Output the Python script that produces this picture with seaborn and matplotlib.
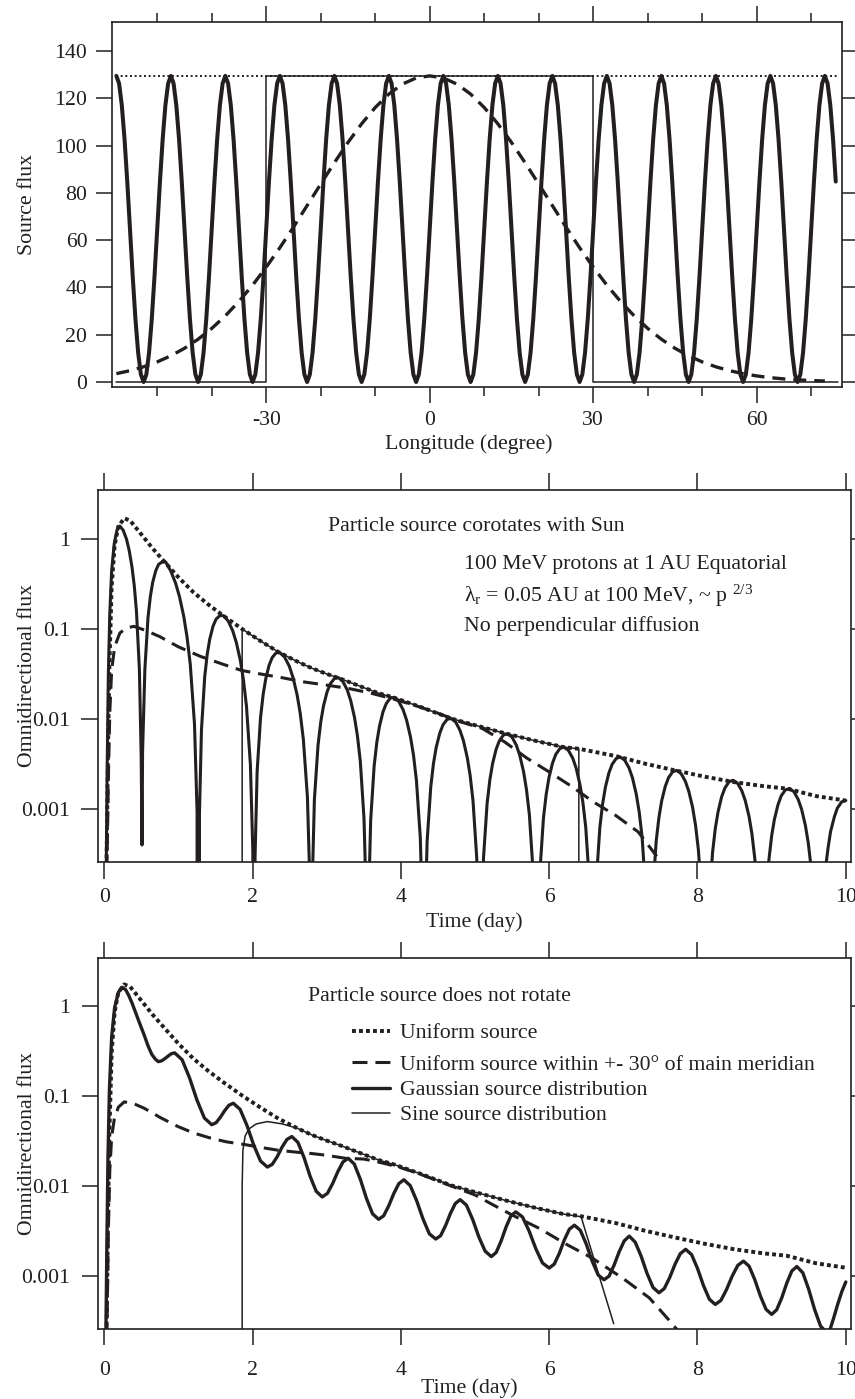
import matplotlib
matplotlib.use("Agg")
import matplotlib.pyplot as plt
import numpy as np
import seaborn as sns
from matplotlib.ticker import FixedLocator, NullLocator

INK = "#231f20"
FONT_SIZE = 15.7

# ---------- top panel: source flux against longitude ----------
UNIFORM_LON = [-57.5, 74.9]
UNIFORM_SRC = [129.5, 129.5]

STEP_LON = [-57.5, -30.0, -30.0, 30.0, 30.0, 74.9]
STEP_SRC = [0.0, 0.0, 129.5, 129.5, 0.0, 0.0]

GAUSS_LON = np.arange(-57.5, 73.0, 2.5)
GAUSS_SRC = [3.54, 4.80, 6.43, 8.50, 11.09, 14.26, 18.10, 22.66, 28.00, 34.11, 40.98, 48.60,
             56.81, 65.55, 74.64, 83.75, 92.76, 101.35, 109.23, 116.13, 121.81, 126.02, 128.62,
             129.5,
             128.62, 126.02, 121.81, 116.13, 109.23, 101.35, 92.76, 83.75, 74.64, 65.55, 56.81,
             48.60, 40.98, 34.11, 28.00, 22.66, 18.10, 14.26, 11.09, 8.50, 6.43, 4.80, 3.54,
             2.57, 1.84, 1.30, 0.91, 0.62, 0.42]

SINE_LON = np.arange(-57.5, 75.0, 0.5)
SINE_SRC = [
    129.5, 126.3, 117.1, 102.8, 84.8, 64.8, 44.7, 26.7, 12.4, 3.2, 0.0, 3.2, 12.4, 26.7, 44.7, 64.8, 84.8, 102.8, 117.1, 126.3,
    129.5, 126.3, 117.1, 102.8, 84.8, 64.8, 44.7, 26.7, 12.4, 3.2, 0.0, 3.2, 12.4, 26.7, 44.7, 64.8, 84.8, 102.8, 117.1, 126.3,
    129.5, 126.3, 117.1, 102.8, 84.8, 64.8, 44.7, 26.7, 12.4, 3.2, 0.0, 3.2, 12.4, 26.7, 44.7, 64.8, 84.8, 102.8, 117.1, 126.3,
    129.5, 126.3, 117.1, 102.8, 84.8, 64.8, 44.7, 26.7, 12.4, 3.2, 0.0, 3.2, 12.4, 26.7, 44.7, 64.8, 84.8, 102.8, 117.1, 126.3,
    129.5, 126.3, 117.1, 102.8, 84.8, 64.8, 44.7, 26.7, 12.4, 3.2, 0.0, 3.2, 12.4, 26.7, 44.7, 64.8, 84.8, 102.8, 117.1, 126.3,
    129.5, 126.3, 117.1, 102.8, 84.8, 64.8, 44.7, 26.7, 12.4, 3.2, 0.0, 3.2, 12.4, 26.7, 44.7, 64.8, 84.8, 102.8, 117.1, 126.3,
    129.5, 126.3, 117.1, 102.8, 84.8, 64.8, 44.7, 26.7, 12.4, 3.2, 0.0, 3.2, 12.4, 26.7, 44.7, 64.8, 84.8, 102.8, 117.1, 126.3,
    129.5, 126.3, 117.1, 102.8, 84.8, 64.8, 44.7, 26.7, 12.4, 3.2, 0.0, 3.2, 12.4, 26.7, 44.7, 64.8, 84.8, 102.8, 117.1, 126.3,
    129.5, 126.3, 117.1, 102.8, 84.8, 64.8, 44.7, 26.7, 12.4, 3.2, 0.0, 3.2, 12.4, 26.7, 44.7, 64.8, 84.8, 102.8, 117.1, 126.3,
    129.5, 126.3, 117.1, 102.8, 84.8, 64.8, 44.7, 26.7, 12.4, 3.2, 0.0, 3.2, 12.4, 26.7, 44.7, 64.8, 84.8, 102.8, 117.1, 126.3,
    129.5, 126.3, 117.1, 102.8, 84.8, 64.8, 44.7, 26.7, 12.4, 3.2, 0.0, 3.2, 12.4, 26.7, 44.7, 64.8, 84.8, 102.8, 117.1, 126.3,
    129.5, 126.3, 117.1, 102.8, 84.8, 64.8, 44.7, 26.7, 12.4, 3.2, 0.0, 3.2, 12.4, 26.7, 44.7, 64.8, 84.8, 102.8, 117.1, 126.3,
    129.5, 126.3, 117.1, 102.8, 84.8, 64.8, 44.7, 26.7, 12.4, 3.2, 0.0, 3.2, 12.4, 26.7, 44.7, 64.8, 84.8, 102.8, 117.1, 126.3,
    129.5, 126.3, 117.1, 102.8, 84.8,
]

# ---------- time profiles (days, omnidirectional flux) ----------
# uniform source: same curve in both lower panels
UNIFORM_T = [0.03, 0.05, 0.07, 0.10, 0.14, 0.19, 0.27, 0.35, 0.50, 0.65, 0.80, 1.00, 1.20, 1.40,
             1.60, 1.86, 2.10, 2.35, 2.60, 2.80, 3.00, 3.20, 3.50, 3.70, 3.90, 4.30, 4.68, 5.00,
             5.40, 5.80, 6.20, 6.40, 6.90, 7.30, 7.70, 8.10, 8.50, 8.90, 9.20, 9.60, 10.00]
UNIFORM_FLUX = [0.0002, 0.004, 0.04, 0.30, 0.85, 1.40, 1.72, 1.62, 1.14, 0.80, 0.58, 0.38, 0.26, 0.19,
                0.143, 0.101, 0.075, 0.056, 0.044, 0.037, 0.032, 0.028, 0.0225, 0.0195, 0.0175, 0.0134, 0.0102, 0.0086,
                0.0070, 0.0058, 0.0049, 0.0047, 0.0039, 0.0032, 0.0027, 0.0023, 0.0020, 0.0018, 0.0017, 0.0014, 0.00125]

# corotating source
COROT_STEP_T = [1.86, 1.86, 2.10, 2.35, 2.60, 2.80, 3.00, 3.20, 3.50, 3.70, 3.90, 4.30, 4.68, 5.00,
                5.40, 5.80, 6.20, 6.40, 6.40]
COROT_STEP_FLUX = [0.0, 0.101, 0.075, 0.056, 0.044, 0.037, 0.032, 0.028, 0.0225, 0.0195, 0.0175, 0.0134, 0.0102, 0.0086,
                   0.0070, 0.0058, 0.0049, 0.0047, 0.0]

COROT_WIDE_T = [0.035, 0.055, 0.075, 0.10, 0.14, 0.21, 0.30, 0.40, 0.55, 0.75, 1.0, 1.3, 1.6, 1.85,
                2.1, 2.4, 2.7, 3.0, 3.3, 3.6, 3.9, 4.2, 4.5, 4.8, 5.1, 5.4, 5.7, 6.0, 6.3, 6.6, 6.9, 7.2, 7.45]
COROT_WIDE_FLUX = [0.0002, 0.002, 0.012, 0.035, 0.064, 0.091, 0.104, 0.108, 0.098, 0.083, 0.064, 0.050, 0.041, 0.035,
                   0.032, 0.029, 0.026, 0.024, 0.022, 0.0195, 0.0168, 0.0142, 0.0117, 0.0094, 0.0079, 0.0056, 0.0037,
                   0.0026, 0.0018, 0.0012, 0.00085, 0.00056, 0.0003]

# one row per arch, cusps at zero flux
COROT_SINE_T = [
    0.025, 0.04, 0.055, 0.075, 0.10, 0.135, 0.17, 0.19, 0.21, 0.255, 0.30, 0.336, 0.375, 0.405, 0.435, 0.474, 0.498, 0.51,
    0.517, 0.548, 0.59, 0.622, 0.654, 0.696, 0.734, 0.782, 0.83, 0.896, 0.962, 1.015, 1.072, 1.116, 1.16, 1.217, 1.252, 1.27,
    1.284, 1.311, 1.355, 1.389, 1.423, 1.467, 1.508, 1.559, 1.61, 1.672, 1.733, 1.782, 1.836, 1.877, 1.918, 1.971, 2.004, 2.02,
    2.034, 2.062, 2.108, 2.143, 2.178, 2.223, 2.265, 2.318, 2.37, 2.433, 2.496, 2.546, 2.601, 2.643, 2.685, 2.74, 2.773, 2.79,
    2.805, 2.834, 2.883, 2.92, 2.957, 3.005, 3.049, 3.105, 3.16, 3.219, 3.277, 3.324, 3.375, 3.414, 3.453, 3.503, 3.534, 3.55,
    3.564, 3.593, 3.64, 3.676, 3.712, 3.759, 3.802, 3.856, 3.91, 3.97, 4.03, 4.078, 4.13, 4.17, 4.21, 4.262, 4.294, 4.31,
    4.325, 4.354, 4.403, 4.44, 4.477, 4.525, 4.569, 4.625, 4.68, 4.739, 4.797, 4.844, 4.895, 4.934, 4.973, 5.023, 5.054, 5.07,
    5.114, 5.163, 5.2, 5.237, 5.285, 5.329, 5.385, 5.44, 5.499, 5.557, 5.604, 5.655, 5.694, 5.733, 5.783, 5.83,
    5.874, 5.923, 5.96, 5.997, 6.045, 6.089, 6.145, 6.2, 6.259, 6.317, 6.364, 6.415, 6.454, 6.493, 6.543, 6.59,
    6.634, 6.683, 6.72, 6.757, 6.805, 6.849, 6.905, 6.96, 7.019, 7.077, 7.124, 7.175, 7.214, 7.253, 7.303, 7.35,
    7.394, 7.443, 7.48, 7.517, 7.565, 7.609, 7.665, 7.72, 7.779, 7.837, 7.884, 7.935, 7.974, 8.013, 8.063, 8.11,
    8.154, 8.203, 8.24, 8.277, 8.325, 8.369, 8.425, 8.48, 8.539, 8.597, 8.644, 8.695, 8.734, 8.773, 8.823, 8.87,
    8.914, 8.963, 9.0, 9.037, 9.085, 9.129, 9.185, 9.24, 9.299, 9.357, 9.404, 9.455, 9.494, 9.533, 9.583, 9.63,
    9.671, 9.72, 9.76, 9.794, 9.845, 9.886, 9.945, 10.0,
]
COROT_SINE_FLUX = [
    1.5e-4, 0.003, 0.03, 0.15, 0.45, 0.9, 1.25, 1.36, 1.41, 1.27, 1.01, 0.76, 0.49, 0.306, 0.158, 0.036, 0.0039, 0.0004,
    0.0043, 0.036, 0.135, 0.233, 0.335, 0.452, 0.53, 0.562, 0.56, 0.448, 0.327, 0.231, 0.14, 0.083, 0.041, 0.0089, 0.00094, 0.0,
    0.00088, 0.0076, 0.0298, 0.053, 0.078, 0.1086, 0.130, 0.1425, 0.142, 0.124, 0.0964, 0.0711, 0.0449, 0.0275, 0.0140, 0.00314, 0.000335, 0.0,
    0.0003, 0.00265, 0.0105, 0.0189, 0.0282, 0.0399, 0.0486, 0.055, 0.055, 0.0491, 0.0389, 0.0291, 0.0187, 0.01164, 0.006, 0.00137, 0.00015, 0.0,
    0.000145, 0.00128, 0.00515, 0.00938, 0.0141, 0.0202, 0.0249, 0.0285, 0.029, 0.0263, 0.0212, 0.0161, 0.0105, 0.00658, 0.00343, 0.00079, 0.000087, 0.0,
    0.000086, 0.000757, 0.00305, 0.00557, 0.00839, 0.0121, 0.0149, 0.0172, 0.0175, 0.0159, 0.0128, 0.00975, 0.00635, 0.00401, 0.00209, 0.000484, 0.000053, 0.0,
    0.00005, 0.000439, 0.00177, 0.00324, 0.00489, 0.00703, 0.00871, 0.01002, 0.0102, 0.00933, 0.00755, 0.00577, 0.00377, 0.00238, 0.00124, 0.000289, 0.000032, 0.0,
    0.000285, 0.00116, 0.00212, 0.00322, 0.00466, 0.00579, 0.00671, 0.0069, 0.00634, 0.00516, 0.00396, 0.00261, 0.00165, 0.000869, 0.000203, 0.0,
    0.000196, 0.000802, 0.00147, 0.00224, 0.00326, 0.00407, 0.00474, 0.0049, 0.00452, 0.00371, 0.00286, 0.00188, 0.0012, 0.000632, 0.000149, 0.0,
    0.000152, 0.000622, 0.00114, 0.00174, 0.00253, 0.00316, 0.00368, 0.0038, 0.00351, 0.00288, 0.00222, 0.00146, 0.00093, 0.000491, 0.000115, 0.0,
    0.000108, 0.000442, 0.00081, 0.00124, 0.00179, 0.00224, 0.00261, 0.0027, 0.00249, 0.00204, 0.00157, 0.00104, 0.00066, 0.000348, 0.000082, 0.0,
    0.00008, 0.00033, 0.00061, 0.000933, 0.00137, 0.00172, 0.00202, 0.0021, 0.00195, 0.00161, 0.00125, 0.000832, 0.000533, 0.000282, 0.000066, 0.0,
    0.000068, 0.000274, 0.000505, 0.00077, 0.00112, 0.00141, 0.00164, 0.0017, 0.00157, 0.00129, 0.000998, 0.00066, 0.000421, 0.000222, 0.000052, 0.0,
    0.00005, 0.0002, 0.000368, 0.000562, 0.00082, 0.00103, 0.00121, 0.00125,
]

# source fixed in space
STATIC_WIDE_T = [0.035, 0.055, 0.075, 0.10, 0.135, 0.19, 0.27, 0.40, 0.54, 0.75, 0.99, 1.2, 1.44, 1.65,
                 1.89, 2.1, 2.35, 2.6, 2.8, 3.0, 3.25, 3.5, 3.7, 3.95, 4.2, 4.4, 4.7, 5.0, 5.2, 5.5,
                 5.87, 6.22, 6.58, 6.99, 7.35, 7.6, 7.72]
STATIC_WIDE_FLUX = [0.0002, 0.003, 0.015, 0.035, 0.055, 0.075, 0.086, 0.082, 0.073, 0.058, 0.046, 0.039, 0.034, 0.031,
                    0.029, 0.027, 0.025, 0.0238, 0.023, 0.022, 0.0204, 0.020, 0.0185, 0.0165, 0.0142, 0.0123, 0.0099,
                    0.0080, 0.0065, 0.0048, 0.0034, 0.0023, 0.0016, 0.00096, 0.00058, 0.00034, 0.00026]

STATIC_GAUSS_T = [
    0.02, 0.035, 0.05, 0.07, 0.10, 0.14, 0.19, 0.24, 0.29, 0.33, 0.375, 0.42, 0.48, 0.54, 0.59, 0.64, 0.69, 0.73,
    0.774, 0.818, 0.862, 0.906, 0.95,
    1.05, 1.15, 1.25, 1.35, 1.45,
    1.508, 1.566, 1.624, 1.682, 1.74,
    1.832, 1.924, 2.016, 2.108, 2.20,
    2.266, 2.332, 2.398, 2.464, 2.53,
    2.612, 2.694, 2.776, 2.858, 2.94,
    3.01, 3.08, 3.15, 3.22, 3.29,
    3.372, 3.454, 3.536, 3.618, 3.70,
    3.768, 3.836, 3.904, 3.972, 4.04,
    4.126, 4.212, 4.298, 4.384, 4.47,
    4.536, 4.602, 4.668, 4.734, 4.80,
    4.884, 4.968, 5.052, 5.136, 5.22,
    5.286, 5.352, 5.418, 5.484, 5.55,
    5.64, 5.73, 5.82, 5.91, 6.00,
    6.068, 6.136, 6.204, 6.272, 6.34,
    6.42, 6.50, 6.58, 6.66, 6.74,
    6.808, 6.876, 6.944, 7.012, 7.08,
    7.16, 7.24, 7.32, 7.40, 7.48,
    7.552, 7.624, 7.696, 7.768, 7.84,
    7.92, 8.00, 8.08, 8.16, 8.24,
    8.316, 8.392, 8.468, 8.544, 8.62,
    8.696, 8.772, 8.848, 8.924, 9.00,
    9.068, 9.136, 9.204, 9.272, 9.34,
    9.42, 9.50, 9.58, 9.66, 9.74,
    9.79, 9.84, 9.89, 9.945, 10.0,
]
STATIC_GAUSS_FLUX = [
    0.00015, 0.002, 0.02, 0.12, 0.45, 0.95, 1.4, 1.6, 1.5, 1.3, 1.07, 0.85, 0.63, 0.47, 0.36, 0.29, 0.255, 0.24,
    0.245, 0.259, 0.277, 0.294, 0.30,
    0.252, 0.159, 0.0902, 0.057, 0.048,
    0.0505, 0.058, 0.0687, 0.0789, 0.083,
    0.0711, 0.0473, 0.0285, 0.019, 0.0163,
    0.0175, 0.0212, 0.0271, 0.033, 0.0355,
    0.0306, 0.0208, 0.0129, 0.0088, 0.0076,
    0.00834, 0.0107, 0.0145, 0.0186, 0.0204,
    0.0176, 0.0119, 0.00733, 0.00495, 0.0043,
    0.0047, 0.00605, 0.00828, 0.01067, 0.0118,
    0.01016, 0.00695, 0.00435, 0.00297, 0.0026,
    0.00283, 0.00365, 0.00499, 0.00643, 0.0071,
    0.00617, 0.00429, 0.00274, 0.00191, 0.00166,
    0.00185, 0.00247, 0.00352, 0.0047, 0.0052,
    0.00457, 0.00318, 0.00203, 0.00141, 0.00124,
    0.00137, 0.0018, 0.00254, 0.00334, 0.0037,
    0.00325, 0.00229, 0.00148, 0.00104, 0.00092,
    0.00101, 0.00134, 0.00188, 0.00248, 0.0028,
    0.0024, 0.00168, 0.00108, 0.000757, 0.00066,
    0.000734, 0.000968, 0.00136, 0.00179, 0.0020,
    0.00175, 0.00123, 0.000796, 0.00056, 0.00049,
    0.000544, 0.000718, 0.00101, 0.00133, 0.00148,
    0.0013, 0.000925, 0.000608, 0.000433, 0.00038,
    0.000428, 0.000579, 0.000845, 0.00115, 0.00129,
    0.0011, 0.000721, 0.000429, 0.000282, 0.00024,
    0.000263, 0.000355, 0.00049, 0.000676, 0.00087,
]

STATIC_SINE_T = [1.855, 1.86, 1.87, 1.90, 1.95, 2.05, 2.20, 2.40, 2.60, 2.80, 3.00, 3.20, 3.50, 3.70,
                 3.90, 4.30, 4.68, 5.00, 5.40, 5.80, 6.20, 6.43, 6.87]
STATIC_SINE_FLUX = [0.0, 0.01, 0.025, 0.036, 0.043, 0.049, 0.052, 0.049, 0.044, 0.037, 0.032, 0.028, 0.0225, 0.0195,
                    0.0175, 0.0134, 0.0102, 0.0086, 0.0070, 0.0058, 0.0049, 0.0046, 0.0003]

LEGEND_LABELS = ["Uniform source", "Uniform source within +- 30\u00b0 of main meridian",
                 "Gaussian source distribution", "Sine source distribution"]

DOTTED_THIN = (0, (1, 1.4))
DOTTED_BOLD = (0, (1, 0.8))
DASH_TOP = (0, (3.9, 2.4))
DASH = (0, (4.9, 2.6))


def draw(ax, x, y, lw, ls="-"):
    sns.lineplot(x=x, y=y, ax=ax, estimator=None, sort=False, legend=False,
                 color=INK, linewidth=lw, linestyle=ls)
    return ax.lines[-1]


def frame(ax, major_len, minor_len, xpad, ypad):
    ax.tick_params(axis="both", which="both", direction="out", top=True, right=True,
                   labeltop=False, labelright=False, width=1.1, colors=INK, labelsize=FONT_SIZE)
    ax.tick_params(which="major", length=major_len)
    ax.tick_params(which="minor", length=minor_len)
    ax.tick_params(axis="x", pad=xpad)
    ax.tick_params(axis="y", pad=ypad)
    for spine in ax.spines.values():
        spine.set_linewidth(1.2)
        spine.set_color(INK)


def time_axes(ax, ylim):
    ax.set_yscale("log")
    ax.set_xlim(-0.08, 10.07)
    ax.set_ylim(*ylim)
    ax.set_xticks([0, 2, 4, 6, 8, 10])
    ax.set_xticklabels(["0", "2", "4", "6", "8", "10"])
    ax.set_yticks([1e-3, 1e-2, 1e-1, 1])
    ax.set_yticklabels(["0.001", "0.01", "0.1", "1"])
    ax.yaxis.set_minor_locator(NullLocator())
    ax.xaxis.set_minor_locator(NullLocator())
    ax.set_ylabel("Omnidirectional flux")
    ax.yaxis.label.set_va("baseline")
    ax.yaxis.set_label_coords(-0.0885, 0.5)
    ax.set_xlabel("Time (day)")
    ax.xaxis.label.set_va("baseline")


def main() -> None:
    sns.set_theme(style="ticks")
    plt.rcParams.update({
        "font.family": ["Liberation Serif", "DejaVu Serif"],
        "font.size": FONT_SIZE,
        "axes.unicode_minus": False,
        "mathtext.fontset": "custom",
        "mathtext.rm": "Liberation Serif",
        "mathtext.it": "Liberation Serif:italic",
        "mathtext.bf": "Liberation Serif:bold",
        "text.color": INK,
        "axes.labelcolor": INK,
        "axes.labelsize": FONT_SIZE,
        "legend.fontsize": FONT_SIZE,
    })

    fig = plt.figure(figsize=(8.55, 13.99), dpi=100)
    ax1 = fig.add_axes([0.13099, 0.72316, 0.85415, 0.26112])
    ax2 = fig.add_axes([0.11497, 0.38385, 0.88035, 0.26590])
    ax3 = fig.add_axes([0.11497, 0.05004, 0.88035, 0.26498])

    # --- source distributions
    draw(ax1, UNIFORM_LON, UNIFORM_SRC, 1.4, DOTTED_THIN)
    draw(ax1, STEP_LON, STEP_SRC, 1.1)
    draw(ax1, GAUSS_LON, GAUSS_SRC, 2.4, DASH_TOP)
    draw(ax1, SINE_LON, SINE_SRC, 2.9)
    ax1.set_xlim(-58.3, 75.7)
    ax1.set_ylim(-2.24, 152.3)
    ax1.set_xticks([-30, 0, 30, 60])
    ax1.set_xticklabels(["-30", "0", "30", "60"])
    ax1.xaxis.set_minor_locator(FixedLocator([-50, -40, -20, -10, 10, 20, 40, 50, 70]))
    ax1.set_yticks(range(0, 141, 20))
    ax1.set_yticklabels([str(v) for v in range(0, 141, 20)])
    ax1.yaxis.set_minor_locator(NullLocator())
    frame(ax1, 11.5, 6.3, 5.5, 6.3)
    ax1.set_xlabel("Longitude (degree)")
    ax1.xaxis.label.set_va("baseline")
    ax1.xaxis.set_label_coords(0.4888, -0.1697)
    ax1.set_ylabel("Source flux")
    ax1.yaxis.label.set_va("baseline")
    ax1.yaxis.set_label_coords(-0.1095, 0.5)

    # --- corotating source
    draw(ax2, UNIFORM_T, UNIFORM_FLUX, 2.8, DOTTED_BOLD)
    draw(ax2, COROT_WIDE_T, COROT_WIDE_FLUX, 2.2, DASH)
    draw(ax2, COROT_SINE_T, COROT_SINE_FLUX, 2.2)
    draw(ax2, COROT_STEP_T, COROT_STEP_FLUX, 1.1)
    time_axes(ax2, (2.59e-4, 3.55))
    frame(ax2, 12.0, 6.0, 6.7, 8.4)
    ax2.xaxis.set_label_coords(0.5, -0.174)

    tr = ax2.transAxes
    ax2.text(0.3056, 0.8906, "Particle source corotates with Sun", transform=tr, va="baseline")
    ax2.text(0.4862, 0.7863, "100 MeV protons at 1 AU Equatorial", transform=tr, va="baseline")
    ax2.text(0.4862, 0.6989, "\u03bb$_{\\mathrm{r}}$ = 0.05 AU at 100 MeV, ~ p $^{2/3}$",
             transform=tr, va="baseline")
    ax2.text(0.4862, 0.6210, "No perpendicular diffusion", transform=tr, va="baseline")

    # --- source does not rotate
    h_uni = draw(ax3, UNIFORM_T, UNIFORM_FLUX, 2.8, DOTTED_BOLD)
    h_wide = draw(ax3, STATIC_WIDE_T, STATIC_WIDE_FLUX, 2.2, DASH)
    h_gauss = draw(ax3, STATIC_GAUSS_T, STATIC_GAUSS_FLUX, 2.4)
    h_sine = draw(ax3, STATIC_SINE_T, STATIC_SINE_FLUX, 1.1)
    time_axes(ax3, (2.62e-4, 3.35))
    frame(ax3, 11.3, 6.0, 12.0, 8.9)
    ax3.xaxis.set_label_coords(0.493, -0.1735)

    ax3.text(0.279, 0.8856, "Particle source does not rotate", transform=ax3.transAxes, va="baseline")
    leg_kw = dict(loc="upper left", frameon=False, borderpad=0, borderaxespad=0,
                  handlelength=1.76, handletextpad=0.46, labelspacing=0.23)
    leg1 = ax3.legend([h_uni], LEGEND_LABELS[:1], bbox_to_anchor=(0.3367, 0.8255), **leg_kw)
    ax3.add_artist(leg1)
    ax3.legend([h_wide, h_gauss, h_sine], LEGEND_LABELS[1:], bbox_to_anchor=(0.3367, 0.740), **leg_kw)

    fig.savefig("out.png", dpi=100)


if __name__ == "__main__":
    main()
